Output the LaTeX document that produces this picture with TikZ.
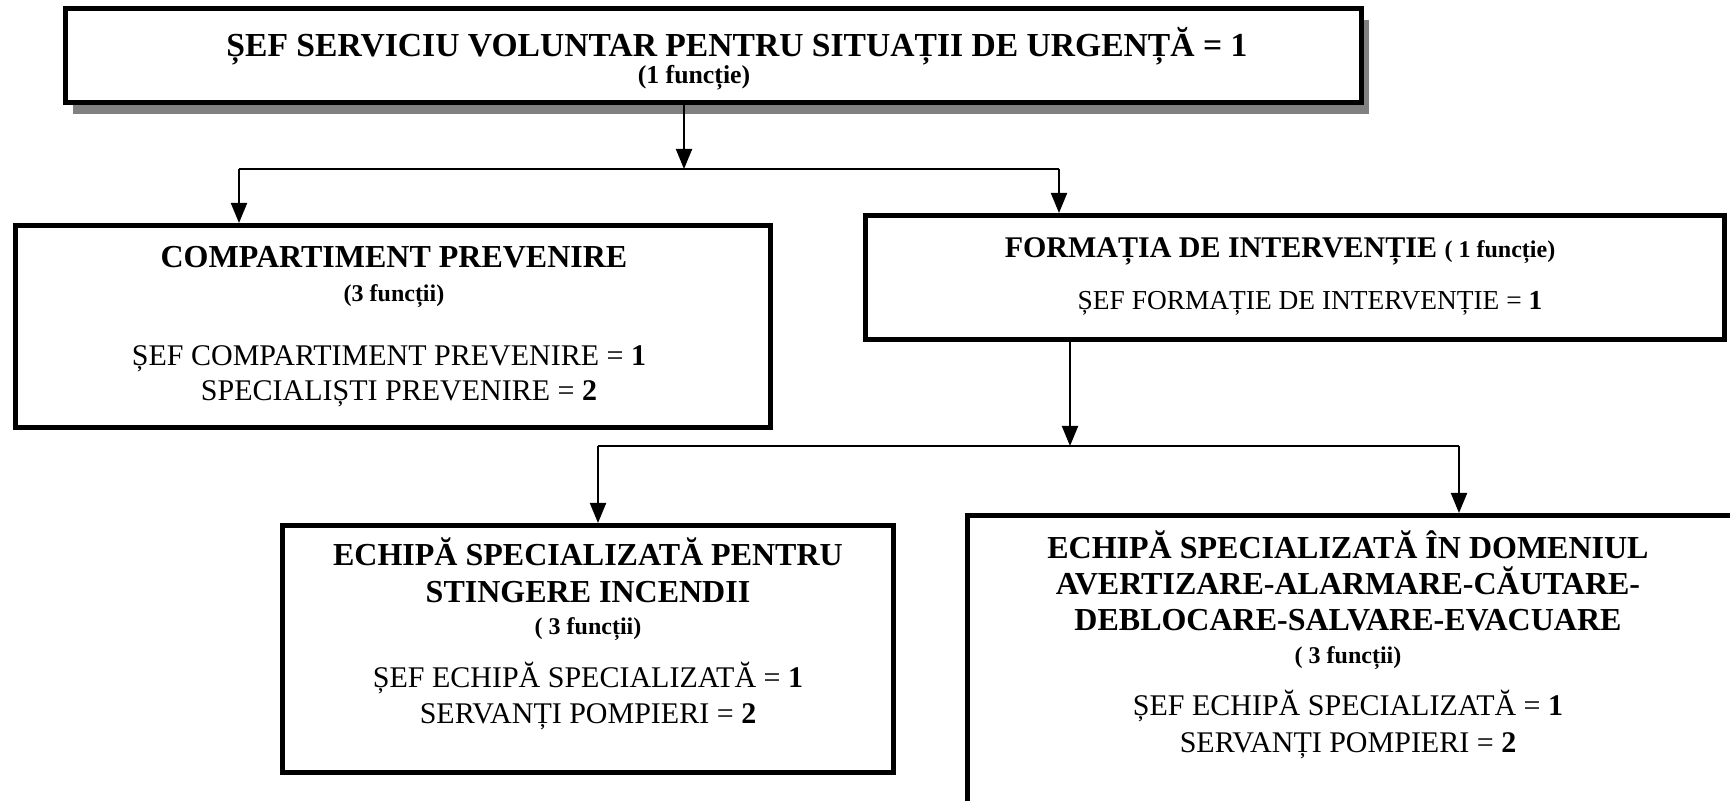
\documentclass[tikz,border=0pt]{standalone}
\usepackage{fontspec}
\setmainfont{Liberation Serif}
\usetikzlibrary{arrows.meta,shadows}

\tikzset{
  box/.style={draw, rectangle, line width=2.5pt, fill=white, inner sep=0pt},
  arr/.style={line width=1pt, -{Triangle[width=8pt,length=10pt]}},
  link/.style={line width=1pt},
  head/.style={font=\fontsize{16.8}{20}\selectfont\bfseries, anchor=base, inner sep=0pt},
  big/.style={font=\fontsize{16}{19}\selectfont\bfseries, anchor=base, inner sep=0pt},
  small/.style={font=\fontsize{12}{14}\selectfont\bfseries, anchor=base, inner sep=0pt},
  plain/.style={font=\fontsize{15}{18}\selectfont, anchor=base, inner sep=0pt},
}

\begin{document}
\begin{tikzpicture}[x=0.5pt,y=-0.5pt]
\useasboundingbox (0,0) rectangle (1730,801);
\fill[white] (0,0) rectangle (1730,801);
\clip (0,0) rectangle (1730,801);

% boxes
\node[box, general shadow={fill=black!50, shadow xshift=4pt, shadow yshift=-5.5pt},
  minimum width=648pt, minimum height=47pt] (sef) at (713,56) {};
\node[box, minimum width=377.5pt, minimum height=101pt] (comp) at (393,326.5) {};
\node[box, minimum width=429.5pt, minimum height=62pt] (form) at (1295,277.5) {};
\node[box, minimum width=305.5pt, minimum height=123.5pt] (stin) at (588,649) {};
\node[box, minimum width=388.75pt, minimum height=192.25pt] (aver) at (1356,707.75) {};

% first level
\coordinate (j0) at (684,169);
\coordinate (jl) at (239,169);
\coordinate (jr) at (1059,169);
\draw[arr] (sef.south -| j0) -- (j0);
\draw[link] (jl) -- (jr);
\draw[arr] (jl) -- (jl |- comp.north);
\draw[arr] (jr) -- (jr |- form.north);

% second level
\coordinate (k0) at (1070,446);
\coordinate (kl) at (598,446);
\coordinate (kr) at (1459,446);
\draw[arr] (form.south -| k0) -- (k0);
\draw[link] (kl) -- (kr);
\draw[arr] (kl) -- (kl |- stin.north);
\draw[arr] (kr) -- (kr |- aver.north);

% texts
\node[head] (sefA) at (737,57) {ȘEF SERVICIU VOLUNTAR PENTRU SITUAȚII DE URGENȚĂ = 1};
\node[small, font=\fontsize{12.9}{15}\selectfont\bfseries] (sefB) at (694,84) {(1 funcție)};

\node[big] (compA) at (394,268) {COMPARTIMENT PREVENIRE};
\node[small] (compB) at (394,302) {(3 funcții)};
\node[plain] (compC) at (389,366) {ȘEF COMPARTIMENT PREVENIRE = \textbf{1}};
\node[plain] (compD) at (399,401) {SPECIALIȘTI PREVENIRE = \textbf{2}};

\node[big, font=\fontsize{15}{18}\selectfont\bfseries] (formA) at (1280,258) {FORMAȚIA DE INTERVENȚIE {\fontsize{12}{14}\selectfont ( 1 funcție)}};
\node[plain, font=\fontsize{13.7}{16}\selectfont] (formB) at (1310,310) {ȘEF FORMAȚIE DE INTERVENȚIE = \textbf{1}};

\node[big] (stinA) at (588,566) {ECHIPĂ SPECIALIZATĂ PENTRU};
\node[big] (stinB) at (588,603) {STINGERE INCENDII};
\node[small] (stinC) at (588,635) {( 3 funcții)};
\node[plain] (stinD) at (588,688) {ȘEF ECHIPĂ SPECIALIZATĂ = \textbf{1}};
\node[plain] (stinE) at (588,724) {SERVANȚI POMPIERI = \textbf{2}};

\node[big] (averA) at (1348,559) {ECHIPĂ SPECIALIZATĂ ÎN DOMENIUL};
\node[big] (averB) at (1348,595) {AVERTIZARE-ALARMARE-CĂUTARE-};
\node[big] (averC) at (1348,631) {DEBLOCARE-SALVARE-EVACUARE};
\node[small] (averD) at (1348,664) {( 3 funcții)};
\node[plain] (averE) at (1348,716) {ȘEF ECHIPĂ SPECIALIZATĂ = \textbf{1}};
\node[plain] (averF) at (1348,752) {SERVANȚI POMPIERI = \textbf{2}};
\end{tikzpicture}
\end{document}
